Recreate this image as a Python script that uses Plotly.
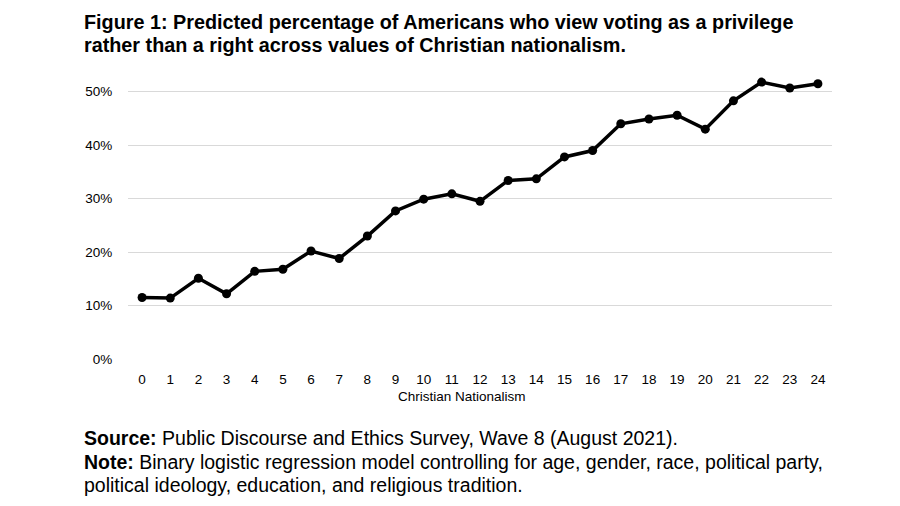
import plotly.graph_objects as go

cn_values = list(range(25))
tick_labels = [str(v) for v in cn_values]
predicted_pct = [11.5, 11.4, 15.1, 12.2, 16.4, 16.8, 20.2, 18.8, 23.0, 27.7, 29.9, 30.9,
                 29.5, 33.4, 33.7, 37.8, 39.0, 44.0, 44.9, 45.6, 43.0, 48.3, 51.8, 50.7, 51.5]
y_ticks = [0, 10, 20, 30, 40, 50]
y_tick_labels = [f"{v}%" for v in y_ticks]

title_lines = ["Figure 1: Predicted percentage of Americans who view voting as a privilege",
               "rather than a right across values of Christian nationalism."]
x_title = "Christian Nationalism"
source_html = "<b>Source:</b> Public Discourse and Ethics Survey, Wave 8 (August 2021)."
note_lines = ["<b>Note:</b> Binary logistic regression model controlling for age, gender, race, political party,",
              "political ideology, education, and religious tradition."]

W, H = 900, 506
L, R, T, B = 128, 68, 65, 147
pw, ph = W - L - R, H - T - B

def px(x):
    return (x - L) / pw

def py(y):
    return (H - B - y) / ph

fig = go.Figure()
fig.add_trace(go.Scatter(
    x=tick_labels, y=predicted_pct, mode="lines+markers",
    line=dict(color="black", width=3.5),
    marker=dict(color="black", size=9),
    hoverinfo="skip", showlegend=False,
))

tick_font = dict(family="Liberation Sans, Arial", size=13.5, color="#000000")
fig.update_layout(
    width=W, height=H,
    margin=dict(l=L, r=R, t=T, b=B),
    paper_bgcolor="white", plot_bgcolor="white",
    xaxis=dict(type="category", range=[-0.5, 24.5], showgrid=False, zeroline=False, showline=False,
               ticks="outside", ticklen=8, tickcolor="rgba(0,0,0,0)",
               tickfont=tick_font),
    yaxis=dict(range=[0, 55], tickvals=y_ticks, ticktext=y_tick_labels,
               showgrid=True, gridcolor="#d9d9d9", gridwidth=1, zeroline=False,
               showline=False, ticks="outside", ticklen=12, tickcolor="rgba(0,0,0,0)",
               tickfont=tick_font),
)

anns = []
title_font = dict(family="Liberation Sans, Arial", size=19.8, color="black")
for i, line in enumerate(title_lines):
    anns.append(dict(text=f"<b>{line}</b>", x=px(82), y=py(22 + 23 * i), xref="paper", yref="paper",
                     xanchor="left", yanchor="middle", showarrow=False, font=title_font))
anns.append(dict(text=x_title, x=px(462), y=py(396), xref="paper", yref="paper",
                 xanchor="center", yanchor="middle", showarrow=False,
                 font=dict(family="Liberation Sans, Arial", size=13.5, color="#000000")))
foot_font = dict(family="Liberation Sans, Arial", size=19.5, color="black")
foot = [source_html] + note_lines
for i, line in enumerate(foot):
    anns.append(dict(text=line, x=px(82), y=py(438 + 23.5 * i), xref="paper", yref="paper",
                     xanchor="left", yanchor="middle", showarrow=False, font=foot_font))
fig.update_layout(annotations=anns)

fig.write_html("out.html")
